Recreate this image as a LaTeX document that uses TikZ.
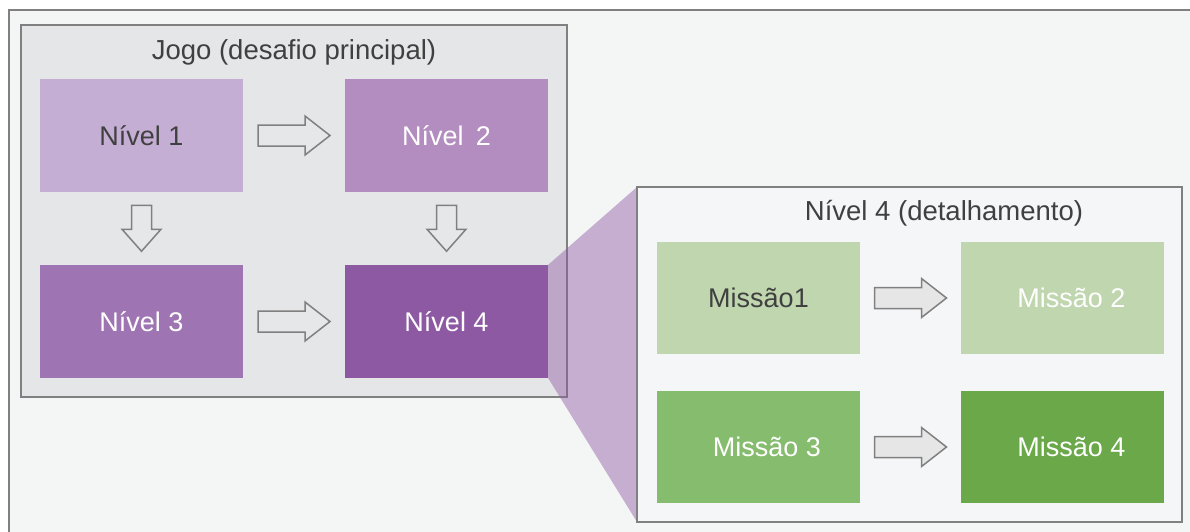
\documentclass[tikz,border=0pt]{standalone}
\usepackage{fontspec}
\setmainfont{Liberation Sans}
\usetikzlibrary{calc}
\definecolor{pageBg}{HTML}{F4F5F5}
\definecolor{frameLine}{HTML}{808080}
\definecolor{jogoBg}{HTML}{E5E6E7}
\definecolor{detBg}{HTML}{F5F6F8}
\definecolor{txtDark}{HTML}{404040}
\definecolor{nivA}{HTML}{C5AED4}
\definecolor{nivB}{HTML}{B38DC0}
\definecolor{nivC}{HTML}{9E74B2}
\definecolor{nivD}{HTML}{8E59A3}
\definecolor{misA}{HTML}{C0D6AE}
\definecolor{misC}{HTML}{86BC6E}
\definecolor{misD}{HTML}{6AA84A}
\definecolor{arrFillA}{HTML}{E6E7E8}
\definecolor{arrFillB}{HTML}{E6E6E6}
\tikzset{
  box/.style={minimum width=203pt, minimum height=112pt, inner sep=0pt, font=\fontsize{27}{31}\selectfont},
  darktxt/.style={text=txtDark},
  lighttxt/.style={text=white},
  ttl/.style={font=\fontsize{27.5}{31}\selectfont, text=txtDark, inner sep=0pt},
  arrowlook/.style={draw=frameLine, line width=1.5pt, fill=#1},
  harrow/.pic={\path[pic actions]
     (-36,-10.5) -- (11,-10.5) -- (11,-19.5) -- (36,0) -- (11,19.5) -- (11,10.5) -- (-36,10.5) -- cycle;},
  varrow/.pic={\path[pic actions]
     (-10,-23) -- (-10,1) -- (-19.5,1) -- (0,23) -- (19.5,1) -- (10,1) -- (10,-23) -- cycle;},
}
\begin{document}
\begin{tikzpicture}[x=1pt, y=-1pt]
\useasboundingbox (0,0) rectangle (1190,532);
\clip (0,0) rectangle (1190,532);
\fill[white] (0,0) rectangle (1190,532);
% outer frame
\draw[draw=frameLine, line width=2pt, fill=pageBg] (9,10.5) rectangle (1205,545);
% Jogo box
\draw[draw=frameLine, line width=1.5pt, fill=jogoBg] (21,25) rectangle (567,397);
\node[ttl] (jtitle) at (294,52) {Jogo (desafio principal)};
\node[box, fill=nivA, darktxt] (n1) at (141.5,135.5) {Nível 1};
\node[box, fill=nivB, lighttxt] (n2) at (446.5,135.5) {Nível\hspace{0.45em}2};
\node[box, fill=nivC, lighttxt, minimum height=113pt] (n3) at (141.5,321.5) {Nível 3};
\node[box, fill=nivD, lighttxt, minimum height=113pt] (n4) at (446.5,321.5) {Nível 4};
\pic[arrowlook=arrFillA] at ($(n1.east)!0.5!(n2.west)$) {harrow};
\pic[arrowlook=arrFillA] at ($(n3.east)!0.5!(n4.west)$) {harrow};
\pic[arrowlook=arrFillA] at ($(n1.south)!0.5!(n3.north)$) {varrow};
\pic[arrowlook=arrFillA] at ($(n2.south)!0.5!(n4.north)$) {varrow};
% funnel
\coordinate (dtl) at (637,187);
\coordinate (dbl) at (637,522);
\fill[nivD, opacity=0.45] (n4.north east) -- (dtl) -- (dbl) -- (n4.south east) -- cycle;
% detail box
\draw[draw=frameLine, line width=1.8pt, fill=detBg] (dtl) rectangle (1182,522);
\node[ttl] (dtitle) at (944,213) {Nível 4 (detalhamento)};
\node[box, fill=misA, darktxt] (m1) at (758.5,298) {Missão1};
\node[box, fill=misA, lighttxt] (m2) at (1062.5,298) {\hspace{18pt}Missão 2};
\node[box, fill=misC, lighttxt] (m3) at (758.5,447) {\hspace{17pt}Missão 3};
\node[box, fill=misD, lighttxt] (m4) at (1062.5,447) {\hspace{18pt}Missão 4};
\pic[arrowlook=arrFillB] at ($(m1.east)!0.5!(m2.west)$) {harrow};
\pic[arrowlook=arrFillB] at ($(m3.east)!0.5!(m4.west)$) {harrow};
\end{tikzpicture}
\end{document}
